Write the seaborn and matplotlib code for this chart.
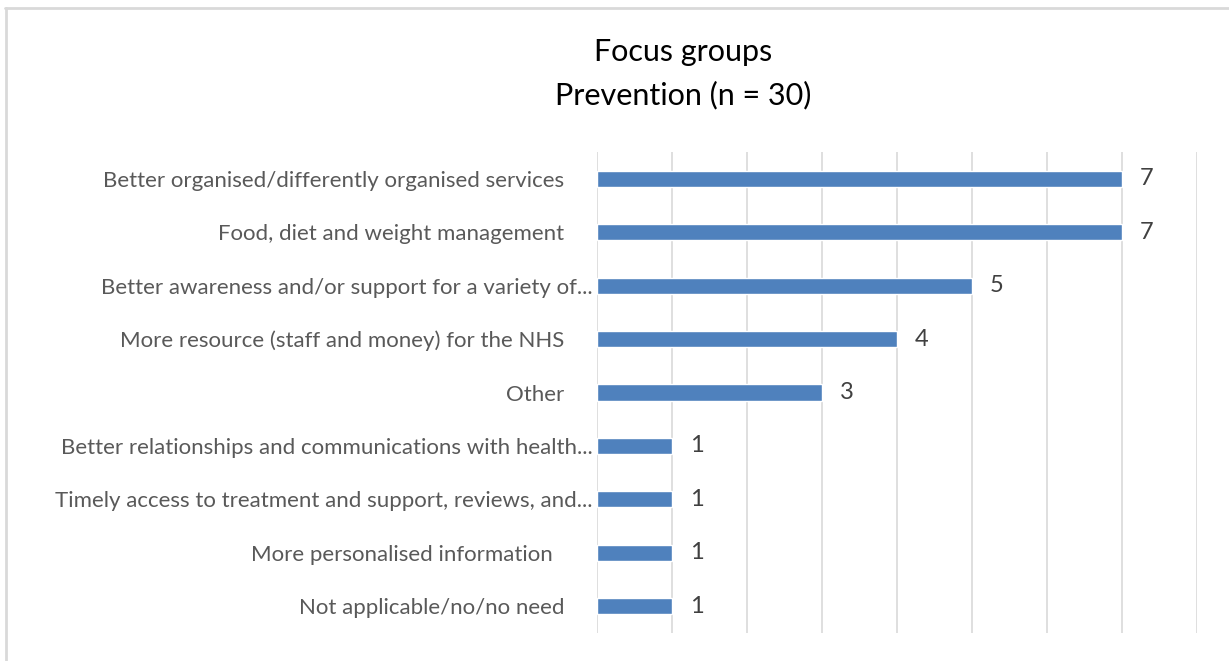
import matplotlib
matplotlib.use("Agg")
import matplotlib.pyplot as plt
import matplotlib.lines as mlines
import seaborn as sns
import pandas as pd

# Data
categories = [
    "Better organised/differently organised services     ",
    "Food, diet and weight management     ",
    "Better awareness and/or support for a variety of...",
    "More resource (staff and money) for the NHS     ",
    "Other     ",
    "Better relationships and communications with health...",
    "Timely access to treatment and support, reviews, and...",
    "More personalised information       ",
    "Not applicable/no/no need     ",
]
counts = [7, 7, 5, 4, 3, 1, 1, 1, 1]
title_lines = ["Focus groups", "Prevention (n = 30)"]

df = pd.DataFrame({"category": categories, "count": counts})

sns.set_theme(style="white")
plt.rcParams["font.family"] = ["Lato", "DejaVu Sans"]

fig = plt.figure(figsize=(12.29, 6.61), dpi=100)
ax = fig.add_axes([0.4858, 0.0424, 0.974 - 0.4858, 0.770 - 0.0424])

sns.barplot(data=df, x="count", y="category", orient="h", color="#4f81bd",
            saturation=1, width=0.3, ax=ax)

ax.set_xlim(0, 8)
ax.set_xticks(range(0, 9))
ax.set_xticklabels([])
ax.tick_params(axis="x", length=0)
ax.tick_params(axis="y", length=0, pad=3, labelsize=16, labelcolor="#595959")
ax.grid(axis="x", color="#d9d9d9", linewidth=1.2)
ax.set_axisbelow(True)
for s in ax.spines.values():
    s.set_visible(False)
ax.set_xlabel("")
ax.set_ylabel("")

# value labels
for i, v in enumerate(counts):
    ax.text(v + 0.24, i, str(v), va="center", ha="left", fontsize=17, color="#404040")

fig.text(0.556, 0.921, title_lines[0], ha="center", va="center", fontsize=22, color="#000000")
fig.text(0.556, 0.856, title_lines[1], ha="center", va="center", fontsize=22, color="#000000")

# light frame like the original chart area
fig.add_artist(mlines.Line2D([0.004, 1.0], [0.988, 0.988], transform=fig.transFigure,
                             color="#d9d9d9", linewidth=2))
fig.add_artist(mlines.Line2D([0.005, 0.005], [0.0, 0.988], transform=fig.transFigure,
                             color="#d9d9d9", linewidth=2))

fig.savefig("out.png", dpi=100)
